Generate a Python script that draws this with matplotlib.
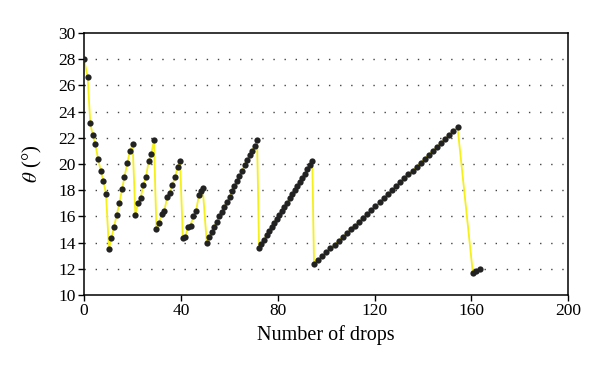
import matplotlib.pyplot as plt
import numpy as np

plt.rcParams['font.family'] = ['Liberation Serif', 'DejaVu Serif']
plt.rcParams['mathtext.fontset'] = 'stix'

# drop number / contact angle
drops_1 = [0.0, 1.5, 2.6, 3.6, 4.7, 5.8, 6.9, 8.0, 9.1, 10.3, 11.3, 12.4, 13.5,
           14.6, 15.7, 16.7, 17.9, 19.0, 20.1, 21.2, 22.3, 23.4, 24.5, 25.6,
           26.7, 27.8, 28.9, 29.9, 31.0, 32.1, 33.2, 34.3, 35.4, 36.5, 37.6,
           38.7, 39.7, 40.8, 41.8, 42.9, 44.0, 45.1, 46.3, 47.4, 48.2, 49.0]
theta_1 = [28.0, 26.66, 23.1, 22.2, 21.5, 20.4, 19.5, 18.7, 17.7, 13.5, 14.35,
           15.2, 16.1, 17.0, 18.07, 19.0, 20.1, 21.0, 21.5, 16.1, 17.0, 17.4,
           18.4, 19.0, 20.2, 20.8, 21.8, 15.0, 15.5, 16.2, 16.4, 17.5, 17.8,
           18.4, 19.0, 19.8, 20.2, 14.35, 14.4, 15.2, 15.3, 16.0, 16.4, 17.6,
           17.95, 18.2]

drops_2 = [50.7, 51.7, 52.8, 53.8, 54.9, 55.9, 56.9, 58.0, 59.0, 60.1, 61.1,
           62.1, 63.2, 64.2, 65.3, 66.3, 67.3, 68.4, 69.4, 70.5, 71.5]
theta_2 = [14.0, 14.4, 14.8, 15.2, 15.6, 16.0, 16.3, 16.7, 17.1, 17.5, 17.9,
           18.3, 18.7, 19.1, 19.5, 19.9, 20.3, 20.7, 21.0, 21.4, 21.8]

drops_3 = [72.3, 73.3, 74.4, 75.4, 76.5, 77.5, 78.6, 79.6, 80.7, 81.7, 82.8,
           83.8, 84.9, 85.9, 87.0, 88.0, 89.1, 90.1, 91.2, 92.2, 93.3, 94.3]
theta_3 = [13.6, 13.9, 14.2, 14.6, 14.9, 15.2, 15.5, 15.8, 16.1, 16.4, 16.7,
           17.0, 17.4, 17.7, 18.0, 18.3, 18.6, 18.9, 19.2, 19.6, 19.9, 20.2]

drops_4 = [95.0, 96.7, 98.4, 100.1, 101.8, 103.5, 105.2, 106.9, 108.6, 110.3,
           112.0, 113.6, 115.3, 117.0, 118.7, 120.4, 122.1, 123.8, 125.5, 127.2,
           128.9, 130.6, 132.3, 134.0, 135.7, 137.4, 139.1, 140.8, 142.5, 144.2,
           145.9, 147.6, 149.2, 150.9, 152.6, 154.3]
theta_4 = [12.35, 12.65, 12.95, 13.25, 13.55, 13.85, 14.15, 14.4, 14.7, 15.0,
           15.3, 15.6, 15.9, 16.2, 16.5, 16.8, 17.1, 17.4, 17.7, 18.0, 18.3,
           18.6, 18.9, 19.2, 19.5, 19.8, 20.1, 20.4, 20.7, 21.0, 21.3, 21.6,
           21.9, 22.2, 22.5, 22.8]

drops_5 = [160.6, 162.0, 163.5]
theta_5 = [11.7, 11.8, 11.95]

x = np.concatenate([drops_1, drops_2, drops_3, drops_4, drops_5])
y = np.concatenate([theta_1, theta_2, theta_3, theta_4, theta_5])

fig = plt.figure(figsize=(6, 3.71), dpi=100)
ax = fig.add_axes([0.14, 0.205, 0.807, 0.706])

for yy in range(12, 30, 2):
    ax.axhline(yy, color="#444444", lw=1.0, linestyle=(0, (1, 7)), zorder=0)

ax.plot(x, y, "-", color="#f5f01a", lw=1.3, zorder=2)
ax.plot(x, y, "o", color="#222222", ms=4.5, mec="none", zorder=3)

ax.set_xlim(0, 200)
ax.set_ylim(10, 30)
ax.set_xticks(np.arange(0, 201, 40))
ax.set_yticks(np.arange(10, 31, 2))
ax.tick_params(direction="out", length=4, width=1, labelsize=12.5, pad=2)
for s in ax.spines.values():
    s.set_linewidth(1.1)

ax.set_xlabel("Number of drops", fontsize=14.5, labelpad=4)
ax.set_ylabel(r"$\theta$ (°)", fontsize=15, labelpad=10)

plt.savefig("out.png", dpi=100)
